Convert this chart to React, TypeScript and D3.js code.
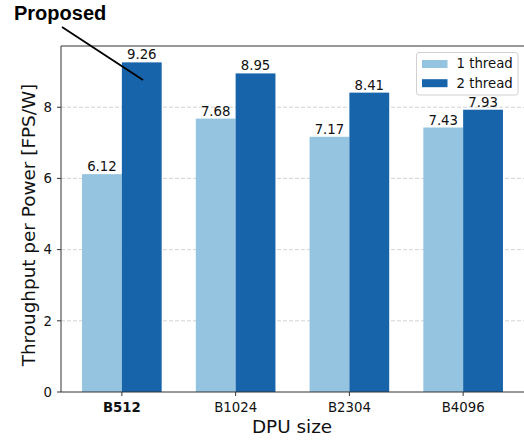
import React from "react";
import * as d3 from "d3";

const categories = ["B512", "B1024", "B2304", "B4096"];
const series = ["1 thread", "2 thread"];
const oneThread = [6.12, 7.68, 7.17, 7.43];
const twoThread = [9.26, 8.95, 8.41, 7.93];
const yTicks = [0, 2, 4, 6, 8];
const colors = ["#94c4df", "#1764ab"];

const W = 524;
const H = 441;
const left = 61;
const right = 524;
const top = 46;
const bottom = 392;
const FONT = "'DejaVu Sans', sans-serif";
const FS = 13.3;

export default function App() {
  const x = d3.scaleLinear().domain([-0.535, 3.535]).range([left, right]);
  const y = d3.scaleLinear().domain([0, 9.72]).range([bottom, top]);
  const bw = 0.35;
  const values = [oneThread, twoThread];

  return (
    <svg width={W} height={H} style={{ position: "absolute", left: 0, top: 0, background: "#fff" }}>
      {/* grid */}
      {yTicks.filter((t) => t > 0).map((t) => (
        <line key={"g" + t} x1={left} x2={right} y1={y(t)} y2={y(t)} stroke="#c8c8c8" strokeWidth={0.8} strokeDasharray="4,2" />
      ))}
      {/* bars */}
      {values.map((vals, si) =>
        vals.map((v, i) => {
          const x0 = x(i + (si === 0 ? -bw : 0));
          const x1 = x(i + (si === 0 ? 0 : bw));
          return (
            <g key={si + "-" + i}>
              <rect x={x0} y={y(v)} width={x1 - x0} height={bottom - y(v)} fill={colors[si]} />
              <text x={(x0 + x1) / 2} y={y(v) - 3} textAnchor="middle" fontFamily={FONT} fontSize={FS} fill="#111">
                {v.toFixed(2)}
              </text>
            </g>
          );
        })
      )}
      {/* spines */}
      <line x1={left} x2={left} y1={top} y2={bottom} stroke="#333" strokeWidth={1} />
      <line x1={left} x2={right} y1={bottom} y2={bottom} stroke="#333" strokeWidth={1} />
      <line x1={left} x2={right} y1={top} y2={top} stroke="#333" strokeWidth={1} />
      {/* y ticks */}
      {yTicks.map((t) => (
        <g key={"y" + t}>
          <line x1={left - 4} x2={left} y1={y(t)} y2={y(t)} stroke="#333" strokeWidth={1} />
          <text x={left - 9} y={y(t)} dy="0.36em" textAnchor="end" fontFamily={FONT} fontSize={FS} fill="#111">
            {t}
          </text>
        </g>
      ))}
      {/* x ticks */}
      {categories.map((c, i) => (
        <g key={"x" + c}>
          <line x1={x(i)} x2={x(i)} y1={bottom} y2={bottom + 4} stroke="#333" strokeWidth={1} />
          <text x={x(i)} y={412} textAnchor="middle" fontFamily={FONT} fontSize={FS} fontWeight={i === 0 ? "bold" : "normal"} fill="#111">
            {c}
          </text>
        </g>
      ))}
      {/* axis labels */}
      <text x={292} y={433} textAnchor="middle" fontFamily={FONT} fontSize={18.4} fill="#111">
        DPU size
      </text>
      <text transform="translate(35,225) rotate(-90)" textAnchor="middle" fontFamily={FONT} fontSize={18.4} fill="#111">
        Throughput per Power [FPS/W]
      </text>
      {/* legend */}
      <rect x={416.5} y={52.5} width={101.5} height={42.5} rx={2.5} fill="#fff" fillOpacity={0.8} stroke="#d0d0d0" strokeWidth={1} />
      {series.map((s, i) => (
        <g key={s}>
          <rect x={422} y={60 + i * 19.2} width={25.5} height={8} fill={colors[i]} />
          <text x={456.5} y={68.3 + i * 19.2} fontFamily={FONT} fontSize={FS} fill="#111">
            {s}
          </text>
        </g>
      ))}
      {/* annotation */}
      <line x1={62} y1={27} x2={143} y2={80} stroke="#000" strokeWidth={1.8} />
      <text x={14} y={19.5} fontFamily="'Liberation Sans', Arial, sans-serif" fontWeight="bold" fontSize={20} fill="#000">
        Proposed
      </text>
    </svg>
  );
}
